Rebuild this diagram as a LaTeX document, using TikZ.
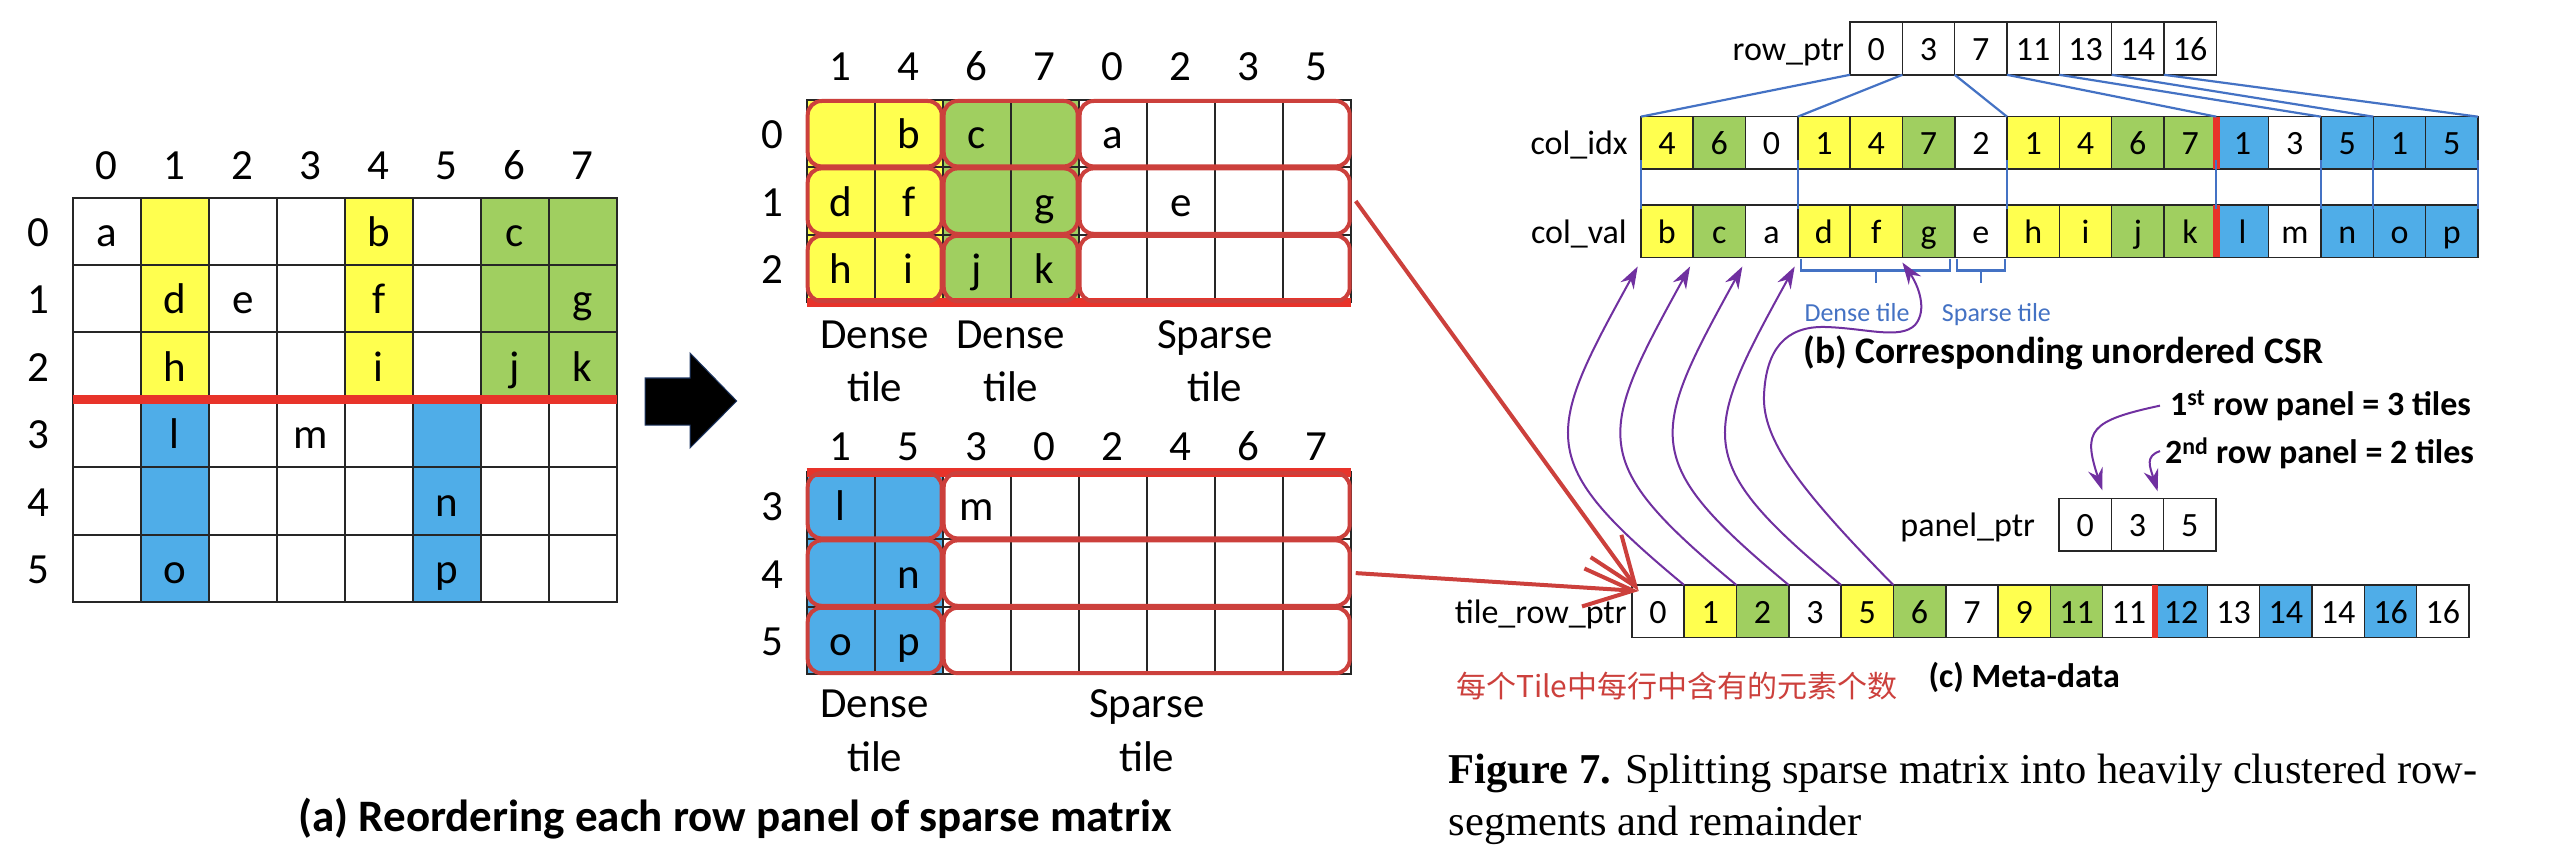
\documentclass[tikz,border=0pt]{standalone}
\usepackage{fontspec}
\setmainfont{Carlito}
\newfontfamily\cjk{Noto Sans CJK SC}
\newfontfamily\capfont{Liberation Serif}
\usetikzlibrary{arrows.meta,calc,fit}
\definecolor{cY}{HTML}{FFFF4F}
\definecolor{cG}{HTML}{A0CF60}
\definecolor{cB}{HTML}{4FADE8}
\definecolor{cW}{HTML}{FFFFFF}
\definecolor{redsep}{HTML}{E8332A}
\definecolor{redbox}{HTML}{CC403C}
\definecolor{blueln}{HTML}{4472C4}
\definecolor{purp}{HTML}{7030A0}
\definecolor{navy}{HTML}{1F3864}
\begin{document}
\begin{tikzpicture}[x=1pt,y=-1pt,
  mcell/.style={draw=black!85,line width=2pt,minimum width=68pt,minimum height=67.4pt,inner sep=0pt,outer sep=0pt,font=\fontsize{43}{50}\selectfont,text height=34pt,text depth=4pt,anchor=north west},
  mlab/.style={inner sep=0pt,outer sep=0pt,font=\fontsize{43}{50}\selectfont,text height=34pt,text depth=4pt},
  tlab/.style={inner sep=0pt,outer sep=0pt,font=\fontsize{43}{50}\selectfont,anchor=base},
  rcell/.style={draw=black!85,line width=1.6pt,minimum width=52.33pt,minimum height=52.5pt,inner sep=0pt,outer sep=0pt,font=\fontsize{34}{40}\selectfont,text height=28pt,text depth=4pt,anchor=north west},
  rlab/.style={inner sep=0pt,outer sep=0pt,font=\fontsize{34}{40}\selectfont,text height=28pt,text depth=4pt,anchor=east},
  tbox/.style={draw=redbox,line width=4pt,rounded corners=14pt,inner sep=-1pt},
  sepline/.style={draw=redsep,line width=9pt},
  rarrow/.style={draw=redbox,line width=4pt,-{Straight Barb[length=50pt,width=38pt]}},
  bline/.style={draw=blueln,line width=2.2pt},
  parrow/.style={draw=purp,line width=2pt,-{Stealth[length=22pt,width=15pt]}},
  boldcap/.style={font=\bfseries\fontsize{34}{40}\selectfont,inner sep=0pt,anchor=base west},
]
\fill[white] (0,0) rectangle (2572,866);
\useasboundingbox (0,0) rectangle (2572,866);

% ---------- left matrix ----------
\foreach \c in {0,...,7} \node[tlab] (Lc\c) at ({106.7+\c*68},179.3) {\c};
\foreach \r in {0,...,5} \node[mlab] (Lr\r) at (38,{231.4+\r*67.4}) {\r};
\foreach \c/\f/\t in {0/cW/a,1/cY/{},2/cW/{},3/cW/{},4/cY/b,5/cW/{},6/cG/c,7/cG/{}}
  \node[mcell,fill=\f] (L-0-\c) at ({72.7+\c*68},197.7) {\t};
\foreach \c/\f/\t in {0/cW/{},1/cY/d,2/cW/e,3/cW/{},4/cY/f,5/cW/{},6/cG/{},7/cG/g}
  \node[mcell,fill=\f] (L-1-\c) at ({72.7+\c*68},265.1) {\t};
\foreach \c/\f/\t in {0/cW/{},1/cY/h,2/cW/{},3/cW/{},4/cY/i,5/cW/{},6/cG/j,7/cG/k}
  \node[mcell,fill=\f] (L-2-\c) at ({72.7+\c*68},332.5) {\t};
\foreach \c/\f/\t in {0/cW/{},1/cB/l,2/cW/{},3/cW/m,4/cW/{},5/cB/{},6/cW/{},7/cW/{}}
  \node[mcell,fill=\f] (L-3-\c) at ({72.7+\c*68},399.9) {\t};
\foreach \c/\f/\t in {0/cW/{},1/cB/{},2/cW/{},3/cW/{},4/cW/{},5/cB/n,6/cW/{},7/cW/{}}
  \node[mcell,fill=\f] (L-4-\c) at ({72.7+\c*68},467.3) {\t};
\foreach \c/\f/\t in {0/cW/{},1/cB/o,2/cW/{},3/cW/{},4/cW/{},5/cB/p,6/cW/{},7/cW/{}}
  \node[mcell,fill=\f] (L-5-\c) at ({72.7+\c*68},534.7) {\t};
\draw[sepline] (L-2-0.south west) -- (L-2-7.south east);

% ---------- big arrow ----------
\fill[black,draw=navy,line width=1pt] (645,378) -- (690,378) -- (690,353) -- (736.7,401) -- (690,448) -- (690,425) -- (645,425) -- cycle;

% ---------- middle top ----------
\foreach \c/\t in {0/1,1/4,2/6,3/7,4/0,5/2,6/3,7/5} \node[tlab] (Ac\c) at ({840.7+\c*68},81) {\t};
\foreach \r in {0,1,2} \node[mlab] (Ar\r) at (772.7,{133.7+\r*67.4}) {\r};
\foreach \c/\f/\t in {0/cY/{},1/cY/b,2/cG/c,3/cG/{},4/cW/a,5/cW/{},6/cW/{},7/cW/{}}
  \node[mcell,fill=\f] (A-0-\c) at ({806.7+\c*68},100) {\t};
\foreach \c/\f/\t in {0/cY/d,1/cY/f,2/cG/{},3/cG/g,4/cW/{},5/cW/e,6/cW/{},7/cW/{}}
  \node[mcell,fill=\f] (A-1-\c) at ({806.7+\c*68},167.4) {\t};
\foreach \c/\f/\t in {0/cY/h,1/cY/i,2/cG/j,3/cG/k,4/cW/{},5/cW/{},6/cW/{},7/cW/{}}
  \node[mcell,fill=\f] (A-2-\c) at ({806.7+\c*68},234.8) {\t};
\draw[sepline] (A-2-0.south west) -- (A-2-7.south east);
\foreach \r in {0,1,2} {
  \node[tbox,fit=(A-\r-0)(A-\r-1)] (TA-\r-1) {};
  \node[tbox,fit=(A-\r-2)(A-\r-3)] (TA-\r-2) {};
  \node[tbox,fit=(A-\r-4)(A-\r-7)] (TA-\r-3) {};
}
\node[tlab] (la1) at (874.7,348.3) {Dense};
\node[tlab] (la2) at (874.7,401.7) {tile};
\node[tlab] (la3) at (1010.7,348.3) {Dense};
\node[tlab] (la4) at (1010.7,401.7) {tile};
\node[tlab] (la5) at (1214.7,348.3) {Sparse};
\node[tlab] (la6) at (1214.7,401.7) {tile};

% ---------- middle bottom ----------
\foreach \c/\t in {0/1,1/5,2/3,3/0,4/2,5/4,6/6,7/7} \node[tlab] (Cc\c) at ({840.7+\c*68},460) {\t};
\foreach \r in {3,4,5} \node[mlab] (Cr\r) at (772.7,{505.7+(\r-3)*67.4}) {\r};
\foreach \c/\f/\t in {0/cB/l,1/cB/{},2/cW/m,3/cW/{},4/cW/{},5/cW/{},6/cW/{},7/cW/{}}
  \node[mcell,fill=\f] (C-3-\c) at ({806.7+\c*68},472) {\t};
\foreach \c/\f/\t in {0/cB/{},1/cB/n,2/cW/{},3/cW/{},4/cW/{},5/cW/{},6/cW/{},7/cW/{}}
  \node[mcell,fill=\f] (C-4-\c) at ({806.7+\c*68},539.4) {\t};
\foreach \c/\f/\t in {0/cB/o,1/cB/p,2/cW/{},3/cW/{},4/cW/{},5/cW/{},6/cW/{},7/cW/{}}
  \node[mcell,fill=\f] (C-5-\c) at ({806.7+\c*68},606.8) {\t};
\draw[sepline] (C-3-0.north west) -- (C-3-7.north east);
\foreach \r in {3,4,5} {
  \node[tbox,fit=(C-\r-0)(C-\r-1)] (TC-\r-1) {};
  \node[tbox,fit=(C-\r-2)(C-\r-7)] (TC-\r-2) {};
}
\node[tlab] (lc1) at (874.7,717) {Dense};
\node[tlab] (lc2) at (874.7,771) {tile};
\node[tlab] (lc3) at (1146.7,717) {Sparse};
\node[tlab] (lc4) at (1146.7,771) {tile};

\node[font=\bfseries\fontsize{45}{54}\selectfont,inner sep=0pt,anchor=base] (capa) at (735,831) {(a) Reordering each row panel of sparse matrix};

% ---------- right: CSR ----------
\foreach \k/\t in {0/0,1/3,2/7,3/11,4/13,5/14,6/16}
  \node[rcell,fill=white] (rp\k) at ({1850+\k*52.33},22.3) {\t};
\foreach \k/\f/\t in {0/cY/4,1/cG/6,2/cW/0,3/cY/1,4/cY/4,5/cG/7,6/cW/2,7/cY/1,8/cY/4,9/cG/6,10/cG/7,11/cB/1,12/cW/3,13/cB/5,14/cB/1,15/cB/5}
  \node[rcell,fill=\f] (ci\k) at ({1640.7+\k*52.33},116.7) {\t};
\foreach \k/\f/\t in {0/cY/b,1/cG/c,2/cW/a,3/cY/d,4/cY/f,5/cG/g,6/cW/e,7/cY/h,8/cY/i,9/cG/j,10/cG/k,11/cB/l,12/cW/m,13/cB/n,14/cB/o,15/cB/p}
  \node[rcell,fill=\f] (cv\k) at ({1640.7+\k*52.33},205) {\t};
\node[rlab] (rpl) at ($(rp0.west)+(-6,0)$) {row\_ptr};
\node[rlab] (cil) at ($(ci0.west)+(-13,0)$) {col\_idx};
\node[rlab] (cvl) at ($(cv0.west)+(-14,0)$) {col\_val};
\draw[draw=redsep,line width=7pt] (ci10.north east) -- (ci10.south east);
\draw[draw=redsep,line width=7pt] (cv10.north east) -- (cv10.south east);

\draw[bline] (rp0.south west) -- (ci0.north west);
\draw[bline] (rp1.south west) -- (ci3.north west);
\draw[bline] (rp2.south west) -- (ci7.north west);
\draw[bline] (rp3.south west) -- (ci11.north west);
\draw[bline] (rp4.south west) -- (ci13.north west);
\draw[bline] (rp5.south west) -- (ci14.north west);
\draw[bline] (rp6.south west) -- (ci15.north east);
\foreach \k in {0,3,7,11,13,14}
  \draw[bline] ($(ci\k.south west)+(0,-9)$) -- ($(cv\k.north west)+(0,4)$);
\draw[bline] ($(ci15.south east)+(0,-9)$) -- ($(cv15.north east)+(0,4)$);

\draw[bline] ($(cv3.south west)+(3,2)$) |- ($(cv5.south east)+(-5,13)$) -- ($(cv5.south east)+(-5,2)$);
\draw[bline] ($(cv3.south west)!0.5!(cv5.south east)+(0,13)$) -- ++(0,13);
\draw[bline] ($(cv6.south west)+(2,2)$) |- ($(cv6.south east)+(-2,13)$) -- ($(cv6.south east)+(-2,2)$);
\draw[bline] ($(cv6.south)+(0,13)$) -- ++(0,13);
\node[font=\fontsize{26}{30}\selectfont,text=blueln,inner sep=0pt,anchor=base] (dtl) at (1857,321.7) {Dense tile};
\node[font=\fontsize{26}{30}\selectfont,text=blueln,inner sep=0pt,anchor=base west] (stl) at (1941.7,321.7) {Sparse tile};
\node[boldcap,font=\bfseries\fontsize{37.5}{44}\selectfont] (capb) at (1803.3,363) {(b) Corresponding unordered CSR};

% ---------- meta-data ----------
\node[boldcap] (p1) at (2170,415) {1\textsuperscript{st} row panel = 3 tiles};
\node[boldcap] (p2) at (2165,463.3) {2\textsuperscript{nd} row panel = 2 tiles};
\foreach \k/\t in {0/0,1/3,2/5}
  \node[rcell,fill=white] (pp\k) at ({2059+\k*52.33},498.3) {\t};
\node[rlab] (ppl) at ($(pp0.west)+(-24,0)$) {panel\_ptr};
\foreach \k/\f/\t in {0/cW/0,1/cY/1,2/cG/2,3/cW/3,4/cY/5,5/cG/6,6/cW/7,7/cY/9,8/cG/11,9/cW/11,10/cB/12,11/cW/13,12/cB/14,13/cW/14,14/cB/16,15/cW/16}
  \node[rcell,fill=\f] (tr\k) at ({1631.7+\k*52.33},585) {\t};
\node[rlab] (trl) at ($(tr0.west)+(-5,0)$) {tile\_row\_ptr};
\draw[draw=redsep,line width=6pt] (tr9.north east) -- (tr9.south east);

\draw[parrow] ($(p1.west)+(-10,0)$) .. controls +(-70,15) and +(-20,-60) .. ($(pp0.north east)+(-9,-8)$);
\draw[parrow] ($(p2.west)+(-5,-2)$) .. controls +(-15,5) and +(-8,-25) .. ($(pp1.north east)+(-6,-7)$);

\foreach \k/\j in {1/0,2/1,3/2,4/3}
  \draw[parrow] (tr\k.north west) .. controls +(-150,-124.5) and +(-93.5,170) .. ($(cv\j.south west)+(-3,9)$);
\draw[parrow] (tr5.north west) .. controls (1800,490) and (1762,440) .. (1764,395)
  .. controls (1766,350) and (1785,326) .. (1825,327)
  .. controls (1865,328) and (1900,340) .. (1915,325)
  .. controls (1928,310) and (1918,285) .. ($(cv5.south west)+(0,5)$);

\draw[rarrow] ($(TA-1-3.east)+(4,0)$) -- ($(tr0.north west)+(7,6)$);
\draw[rarrow] ($(TC-4-2.east)+(4,0)$) -- ($(tr0.north west)+(7,6)$);

\node[font=\cjk\fontsize{30}{36}\selectfont,text=redbox,inner sep=0pt,anchor=base west] (cn) at (1456,697) {每个Tile中每行中含有的元素个数};
\node[boldcap] (capc) at (1928.3,687) {(c) Meta-data};

% ---------- figure caption ----------
\node[font=\capfont\fontsize{42.5}{52}\selectfont,inner sep=0pt,anchor=base west] (fig1) at (1448.6,783.3) {\textbf{Figure 7.} Splitting sparse matrix into heavily clustered row-};
\node[font=\capfont\fontsize{42.5}{52}\selectfont,inner sep=0pt,anchor=base west] (fig2) at (1448.6,835) {segments and remainder};
\end{tikzpicture}
\end{document}
